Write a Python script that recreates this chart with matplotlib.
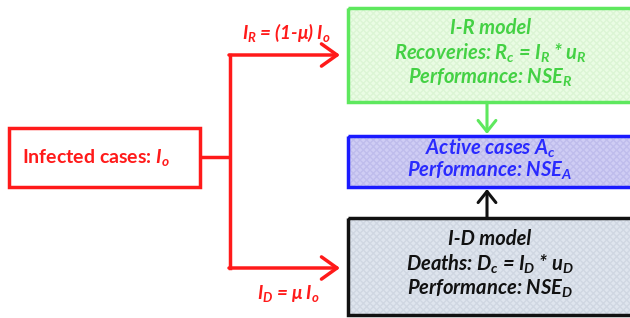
import matplotlib
matplotlib.use("Agg")
import matplotlib.pyplot as plt
from matplotlib.patches import Rectangle, FancyArrowPatch

plt.rcParams['font.family'] = ['Lato', 'DejaVu Sans']
plt.rcParams['mathtext.fontset'] = 'custom'
plt.rcParams['mathtext.rm'] = 'Lato:bold:italic'
plt.rcParams['mathtext.it'] = 'Lato:bold:italic'
plt.rcParams['mathtext.bf'] = 'Lato:bold:italic'

# Diagram content
source_label = r"Infected cases: $I_{\mathrm{o}}$"
branch_labels = [r"$I_R$ = (1-$\mu$) $I_{\mathrm{o}}$", r"$I_D$ = $\mu$ $I_{\mathrm{o}}$"]
ir_lines = ["I-R model", r"Recoveries: $R_c$ = $I_R$ * $u_R$", r"Performance: NSE$_R$"]
active_lines = [r"Active cases $A_c$", r"Performance: NSE$_A$"]
id_lines = ["I-D model", r"Deaths: $D_c$ = $I_D$ * $u_D$", r"Performance: NSE$_D$"]

RED = "#ff1a1a"
GREEN = "#5ee85e"
GREEN_TXT = "#44d144"
BLUE = "#1a1aff"
BLUE_TXT = "#2a2aff"
BLACK = "#111111"

fig = plt.figure(figsize=(6.3, 3.18), dpi=100)
ax = fig.add_axes([0, 0, 1, 1])
ax.set_xlim(0, 630)
ax.set_ylim(318, 0)
ax.axis('off')


def box(x0, y0, x1, y1, edge, fill, hatchc, lw=2.5):
    ax.add_patch(Rectangle((x0, y0), x1 - x0, y1 - y0, facecolor=fill,
                           edgecolor='none', zorder=1))
    ax.add_patch(Rectangle((x0, y0), x1 - x0, y1 - y0, facecolor='none',
                           edgecolor=hatchc, hatch='xxxxx', linewidth=0, zorder=1.5))
    ax.add_patch(Rectangle((x0, y0), x1 - x0, y1 - y0, facecolor='none',
                           edgecolor=edge, linewidth=lw, zorder=2))


# Source box
ax.add_patch(Rectangle((9, 128), 191, 59, facecolor='white', edgecolor=RED,
                       linewidth=2.5, zorder=2))
ax.text(96, 157, source_label, color=RED, fontsize=14, fontweight='bold',
        ha='center', va='center')

# Red branching lines
ax.plot([200, 230], [157, 157], color=RED, lw=2.5, solid_capstyle='butt')
ax.plot([230, 230], [55, 268], color=RED, lw=2.5, solid_capstyle='projecting')
for y in (55, 268):
    ax.add_patch(FancyArrowPatch((229, y), (340, y), arrowstyle='->,head_length=7,head_width=5',
                                 color=RED, lw=2.5, mutation_scale=1.6, shrinkA=0, shrinkB=0))
ax.text(286, 33, branch_labels[0], color=RED, fontsize=13.5, fontweight='bold',
        style='italic', ha='center', va='center')
ax.text(288, 293, branch_labels[1], color=RED, fontsize=13.5, fontweight='bold',
        style='italic', ha='center', va='center')

# Right boxes
box(348, 8, 632, 102, GREEN, "#eafce4", "#dcf5d5")
box(348, 136, 632, 187, BLUE, "#cfcdf4", "#bfbdec")
box(348, 218, 632, 315, BLACK, "#dfe5ee", "#d0d7e2")

cx = 490
for i, t in enumerate(ir_lines):
    ax.text(cx, 28 + 25 * i, t, color=GREEN_TXT, fontsize=14.5, fontweight='bold',
            style='italic', ha='center', va='center', zorder=3)
for i, t in enumerate(active_lines):
    ax.text(cx, 148 + 23 * i, t, color=BLUE_TXT, fontsize=14.5, fontweight='bold',
            style='italic', ha='center', va='center', zorder=3)
for i, t in enumerate(id_lines):
    ax.text(cx, 239 + 25 * i, t, color=BLACK, fontsize=14.5, fontweight='bold',
            style='italic', ha='center', va='center', zorder=3)

# Vertical connector arrows
ax.add_patch(FancyArrowPatch((487, 102), (487, 134), arrowstyle='->,head_length=5,head_width=4',
                             color=GREEN, lw=2.2, mutation_scale=1.6, shrinkA=0, shrinkB=0))
ax.add_patch(FancyArrowPatch((487, 218), (487, 189), arrowstyle='->,head_length=5,head_width=4',
                             color=BLACK, lw=2.2, mutation_scale=1.6, shrinkA=0, shrinkB=0))

fig.savefig("out.png", dpi=100)
